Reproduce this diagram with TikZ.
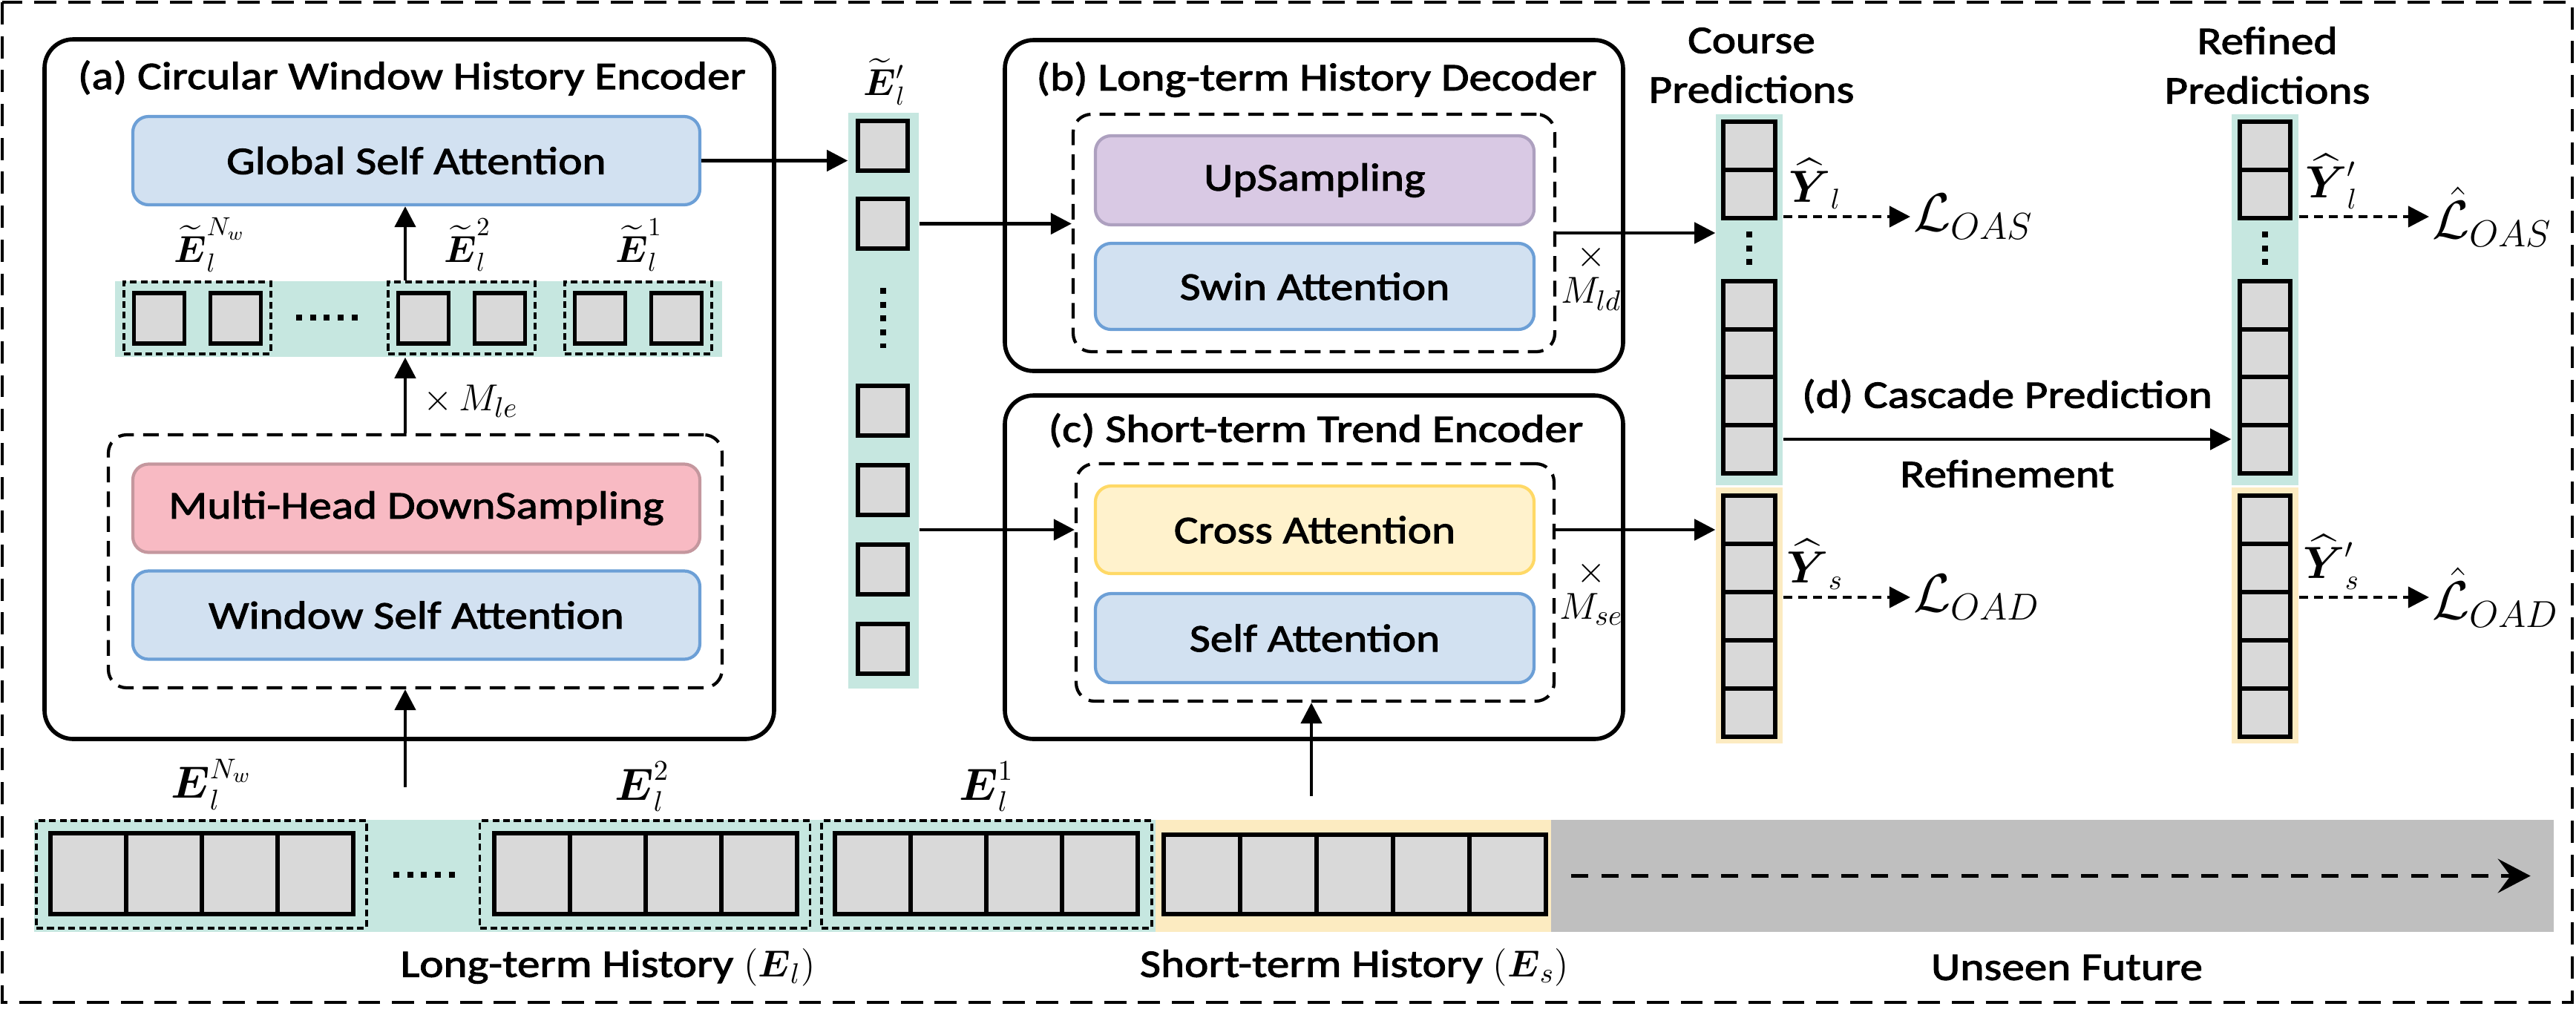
\documentclass[tikz,border=0pt]{standalone}
\usepackage{amsmath}
\usepackage{fontspec}
\setmainfont{Carlito}[FakeStretch=1.16,FakeBold=2]
\usetikzlibrary{arrows.meta,positioning}

\definecolor{tealbg}{HTML}{C6E7E0}
\definecolor{yellowbg}{HTML}{FCEBC1}
\definecolor{futuregray}{HTML}{BFBFBF}
\definecolor{cellgray}{HTML}{D9D9D9}
\definecolor{bluefill}{HTML}{D2E1F1}
\definecolor{blueline}{HTML}{6C9FD6}
\definecolor{pinkfill}{HTML}{F8BAC3}
\definecolor{pinkline}{HTML}{C4979E}
\definecolor{lavfill}{HTML}{D9C9E4}
\definecolor{lavline}{HTML}{ADA0BF}
\definecolor{creamfill}{HTML}{FFF2CC}
\definecolor{creamline}{HTML}{FFD966}

\newcommand{\mainsize}{\fontsize{15}{19}\selectfont}
\newcommand{\symsize}{\fontsize{15}{17}\selectfont}
\newcommand{\smallsym}{\fontsize{14}{16}\selectfont}
\newcommand{\predsize}{\fontsize{16}{18}\selectfont}
\newcommand{\losssize}{\fontsize{20}{22}\selectfont}

\begin{document}
\begin{tikzpicture}[
    >={Triangle[length=8pt,width=8pt]},
    flow/.style={->, line width=1.3pt},
    lossarrow/.style={->, line width=1.2pt, dash pattern=on 3.4pt off 2.3pt},
    stage/.style={draw, line width=1.6pt, rounded corners=11pt},
    stackbox/.style={draw, line width=1.2pt, dash pattern=on 6pt off 3.5pt, rounded corners=7pt},
    grp/.style={draw, line width=1.1pt, dash pattern=on 2.6pt off 1.5pt, inner sep=0pt},
    layer/.style={draw, line width=1.2pt, rounded corners=6pt, minimum width=7.64cm, minimum height=1.19cm, font=\mainsize},
    cell/.style={draw, fill=cellgray, line width=1.7pt, inner sep=0pt},
    strip/.style={inner sep=0pt, minimum height=1.51cm},
    colbg/.style={inner sep=0pt, minimum width=0.90cm},
    dotline/.style={line width=2.3pt, dash pattern=on 2.3pt off 3pt},
    title/.style={font=\mainsize}
]
\useasboundingbox (0,0) rectangle (34.71,-13.67);
% outer frame
\draw[line width=1.4pt, dash pattern=on 8.5pt off 4.5pt] (0.03,-0.03) rectangle (34.66,-13.51);

% (a) circular window history encoder
\node[stage, minimum width=9.83cm, minimum height=9.43cm] (enc) at (5.515,-5.245) {};
\node[title] (enctitle) at (5.55,-1.05) {(a) Circular Window History Encoder};
\node[layer, fill=bluefill, draw=blueline] (gsa) at (5.61,-2.165) {Global Self Attention};
\node[strip, fill=tealbg, minimum width=8.18cm, minimum height=1.02cm] (wstrip) at (5.64,-4.30) {};
\node[grp, minimum width=1.98cm, minimum height=0.97cm] (w1) at (2.66,-4.285) {};
\node[grp, minimum width=1.98cm, minimum height=0.97cm] (w2) at (6.22,-4.285) {};
\node[grp, minimum width=1.98cm, minimum height=0.97cm] (w3) at (8.60,-4.285) {};
\foreach \g in {w1,w2,w3} {
  \node[cell, minimum size=0.68cm] (\g-a) at ([xshift=-0.515cm]\g.center) {};
  \node[cell, minimum size=0.68cm] (\g-b) at ([xshift=0.515cm]\g.center) {};
}
\draw[dotline] (3.99,-4.28) -- (4.82,-4.28);
\node[font=\smallsym] (wlab1) at (2.83,-3.30) {$\widetilde{\boldsymbol{E}}_l^{N_w}$};
\node[font=\smallsym] (wlab2) at (6.30,-3.30) {$\widetilde{\boldsymbol{E}}_l^{2}$};
\node[font=\smallsym] (wlab3) at (8.61,-3.30) {$\widetilde{\boldsymbol{E}}_l^{1}$};
\node[stackbox, minimum width=8.27cm, minimum height=3.41cm] (adash) at (5.595,-7.565) {};
\node[layer, fill=pinkfill, draw=pinkline] (mhd) at (5.61,-6.85) {Multi-Head DownSampling};
\node[layer, fill=bluefill, draw=blueline] (wsa) at (5.61,-8.29) {Window Self Attention};
\coordinate (acol) at (5.46,0);
\draw[flow] (wstrip.north -| acol) -- (gsa.south -| acol);
\draw[flow] (adash.north -| acol) -- (wstrip.south -| acol)
    node[pos=0.42, right=3pt, font=\symsize] {$\times\,M_{le}$};

% long-term memory tokens
\node[colbg, fill=tealbg, minimum width=0.95cm, minimum height=7.76cm] (ecol) at (11.905,-5.40) {};
\foreach \n/\y in {1/1.965, 2/3.015, 3/5.535, 4/6.605, 5/7.675, 6/8.745}
  \node[cell, minimum size=0.675cm] (e\n) at (11.895,-\y) {};
\draw[dotline] (11.9,-3.88) -- (11.9,-4.69);
\node[font=\smallsym] (elab) at (11.92,-1.10) {$\widetilde{\boldsymbol{E}}{\vphantom{\boldsymbol{E}}}'_l$};
\draw[flow] (gsa.east) -- (gsa.east -| ecol.west);

% (b) long-term history decoder
\node[stage, minimum width=8.33cm, minimum height=4.46cm] (dec) at (17.705,-2.77) {};
\node[title] (dectitle) at (17.74,-1.07) {(b) Long-term History Decoder};
\node[stackbox, minimum width=6.49cm, minimum height=3.20cm] (bdash) at (17.705,-3.14) {};
\node[layer, minimum width=5.91cm, minimum height=1.20cm, fill=lavfill, draw=lavline] (ups) at (17.715,-2.43) {UpSampling};
\node[layer, minimum width=5.91cm, minimum height=1.16cm, fill=bluefill, draw=blueline] (swin) at (17.715,-3.86) {Swin Attention};
\node[font=\symsize, align=center] (mld) at (21.44,-3.74) {$\times$\\[-3pt]$M_{ld}$};
\draw[flow] (e2 -| ecol.east) -- (e2 -| bdash.west);

% (c) short-term trend encoder
\node[stage, minimum width=8.33cm, minimum height=4.63cm] (tre) at (17.705,-7.645) {};
\node[title] (tretitle) at (17.73,-5.80) {(c) Short-term Trend Encoder};
\node[stackbox, minimum width=6.44cm, minimum height=3.20cm] (cdash) at (17.72,-7.85) {};
\node[layer, minimum width=5.91cm, minimum height=1.18cm, fill=creamfill, draw=creamline] (cross) at (17.715,-7.14) {Cross Attention};
\node[layer, minimum width=5.91cm, minimum height=1.20cm, fill=bluefill, draw=blueline] (self) at (17.715,-8.60) {Self Attention};
\node[font=\symsize, align=center] (mse) at (21.44,-7.99) {$\times$\\[-3pt]$M_{se}$};
\draw[flow] (ecol.east |- cross) -- (cross -| cdash.west);

% course predictions
\node[title, align=center] (chead) at (23.60,-0.88) {Course\\Predictions};
\node[colbg, fill=tealbg, minimum height=5.00cm] (cpl) at (23.57,-4.04) {};
\node[colbg, fill=yellowbg, minimum height=3.45cm] (cps) at (23.57,-8.295) {};
\foreach \n/\y in {1/1.965, 2/2.615, 3/4.11, 4/4.76, 5/5.405, 6/6.05}
  \node[cell, minimum width=0.70cm, minimum height=0.65cm] (cl\n) at (23.57,-\y) {};
\foreach \n in {1,...,5}
  \node[cell, minimum width=0.70cm, minimum height=0.65cm] (cs\n) at (23.57,{-7.005-0.65*(\n-1)}) {};
\draw[dotline] (23.57,-3.12) -- (23.57,-3.57);
\draw[flow] (bdash.east) -- (bdash.east -| cpl.west);
\draw[flow] (cdash.east |- cross) -- (cross -| cps.west);

% refined predictions
\node[title, align=center] (rhead) at (30.55,-0.88) {Refined\\Predictions};
\node[colbg, fill=tealbg, minimum height=5.00cm] (rpl) at (30.52,-4.04) {};
\node[colbg, fill=yellowbg, minimum height=3.45cm] (rps) at (30.52,-8.295) {};
\foreach \n/\y in {1/1.965, 2/2.615, 3/4.11, 4/4.76, 5/5.405, 6/6.05}
  \node[cell, minimum width=0.68cm, minimum height=0.65cm] (rl\n) at (30.52,-\y) {};
\foreach \n in {1,...,5}
  \node[cell, minimum width=0.68cm, minimum height=0.65cm] (rs\n) at (30.52,{-7.005-0.65*(\n-1)}) {};
\draw[dotline] (30.52,-3.12) -- (30.52,-3.57);

% (d) cascade prediction refinement
\draw[flow] ([yshift=0.13cm]cl6.center -| cpl.east) -- ([yshift=0.13cm]cl6.center -| rpl.west)
    node[midway, above=6pt, title] {(d) Cascade Prediction}
    node[midway, below=4pt, title] {Refinement};

% losses
\node[font=\losssize, anchor=west, inner sep=1pt] (loas) at (25.74,-2.92) {$\mathcal{L}_{OAS}$};
\node[font=\losssize, anchor=west, inner sep=1pt] (load) at (25.74,-8.05) {$\mathcal{L}_{OAD}$};
\node[font=\losssize, anchor=west, inner sep=1pt] (rloas) at (32.73,-2.92) {$\hat{\mathcal{L}}_{OAS}$};
\node[font=\losssize, anchor=west, inner sep=1pt] (rload) at (32.73,-8.05) {$\hat{\mathcal{L}}_{OAD}$};
\draw[lossarrow] (cpl.east |- loas) -- (loas.west)
    node[pos=0.25, above=-1pt, font=\predsize] {$\widehat{\boldsymbol{Y}}_l$};
\draw[lossarrow] (cps.east |- load) -- (load.west)
    node[pos=0.25, above=-1pt, font=\predsize] {$\widehat{\boldsymbol{Y}}_s$};
\draw[lossarrow] (rpl.east |- rloas) -- (rloas.west)
    node[pos=0.25, above=-1pt, font=\predsize] {$\widehat{\boldsymbol{Y}}{\vphantom{\boldsymbol{Y}}}'_l$};
\draw[lossarrow] (rps.east |- rload) -- (rload.west)
    node[pos=0.25, above=-1pt, font=\predsize] {$\widehat{\boldsymbol{Y}}{\vphantom{\boldsymbol{Y}}}'_s$};

% input sequence
\node[strip, fill=tealbg, minimum width=15.11cm] (lhist) at (8.015,-11.805) {};
\node[strip, fill=yellowbg, minimum width=5.33cm] (shist) at (18.235,-11.805) {};
\node[strip, fill=futuregray, minimum width=13.51cm] (future) at (27.655,-11.805) {};
\node[grp, minimum width=4.45cm, minimum height=1.45cm] (g1) at (2.715,-11.785) {};
\node[grp, minimum width=4.45cm, minimum height=1.45cm] (g2) at (8.69,-11.785) {};
\node[grp, minimum width=4.45cm, minimum height=1.45cm] (g3) at (13.295,-11.785) {};
\foreach \g/\x in {g1/1.19, g2/7.17, g3/11.76}
  \foreach \k in {0,...,3}
    \node[cell, minimum width=1.02cm, minimum height=1.09cm] (\g-\k) at ({\x+1.02*\k},-11.775) {};
\foreach \k in {0,...,4}
  \node[cell, minimum width=1.03cm, minimum height=1.07cm] (s-\k) at ({16.195+1.03*\k},-11.785) {};
\draw[dotline] (5.30,-11.79) -- (6.14,-11.79);
\node[font=\predsize] (glab1) at (2.85,-10.57) {$\boldsymbol{E}_l^{N_w}$};
\node[font=\predsize] (glab2) at (8.65,-10.60) {$\boldsymbol{E}_l^{2}$};
\node[font=\predsize] (glab3) at (13.29,-10.60) {$\boldsymbol{E}_l^{1}$};
\draw[-{Stealth[length=0.44cm,width=0.46cm,inset=0.17cm]}, line width=1.4pt, dash pattern=on 6.5pt off 5pt]
    ([xshift=0.28cm]future.west) -- ([xshift=-0.32cm]future.east);
\node[title] (lhlab) at (8.19,-13.04) {Long-term History $(\boldsymbol{E}_l)$};
\node[title] (shlab) at (18.25,-13.04) {Short-term History $(\boldsymbol{E}_s)$};
\node[title] (uflab) at (27.85,-13.04) {Unseen Future};

% inputs into the encoders
\coordinate (ltail) at (5.46,-10.61);
\coordinate (stail) at (17.67,-10.73);
\draw[flow] (ltail) -- (adash.south -| ltail);
\draw[flow] (stail) -- (cdash.south -| stail);
\end{tikzpicture}
\end{document}
